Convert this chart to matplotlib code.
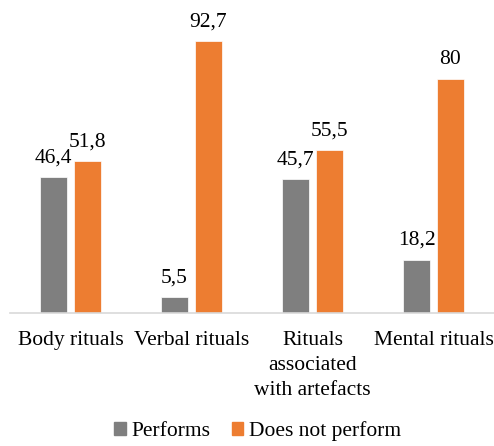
import numpy as np
import matplotlib.pyplot as plt
from matplotlib.patches import Patch

categories = ["Body rituals", "Verbal rituals", "Rituals\nassociated\nwith artefacts", "Mental rituals"]
performs = [46.4, 5.5, 45.7, 18.2]
not_perform = [51.8, 92.7, 55.5, 80]
series_names = ["Performs", "Does not perform"]
colors = ["#7f7f7f", "#ed7d31"]

plt.rcParams['font.family'] = ['Liberation Serif', 'DejaVu Serif']

fig = plt.figure(figsize=(4.94, 4.46), dpi=100)
ax = fig.add_axes([10 / 494, 1 - 313 / 446, 484 / 494, 293 / 446])

x = np.arange(len(categories))
w = 0.225
off = 0.14
fs = 15.5

b1 = ax.bar(x - off, performs, w, color=colors[0], edgecolor="white", linewidth=0.5)
b2 = ax.bar(x + off, not_perform, w, color=colors[1], edgecolor="white", linewidth=0.5)

fmt = lambda v: f"{v:g}".replace(".", ",")
ax.bar_label(b1, labels=[fmt(v) for v in performs], padding=7, fontsize=fs)
ax.bar_label(b2, labels=[fmt(v) for v in not_perform], padding=7, fontsize=fs)

ax.set_xlim(-0.5, 3.5)
ax.set_ylim(0, 100)
ax.set_xticks(x)
ax.set_xticklabels(categories, fontsize=fs, linespacing=1.42)
ax.tick_params(axis="x", length=0, pad=13)
ax.set_yticks([])
for s in ["top", "right", "left"]:
    ax.spines[s].set_visible(False)
ax.spines["bottom"].set_color("#d9d9d9")
ax.spines["bottom"].set_linewidth(1.2)

handles = [Patch(color=c) for c in colors]
fig.legend(handles, series_names, loc="center", bbox_to_anchor=(0.521, 1 - 431 / 446),
           ncol=2, frameon=False, fontsize=fs, handlelength=0.55, handleheight=0.6,
           handletextpad=0.25, columnspacing=1.0)

fig.savefig("out.png", dpi=100)
